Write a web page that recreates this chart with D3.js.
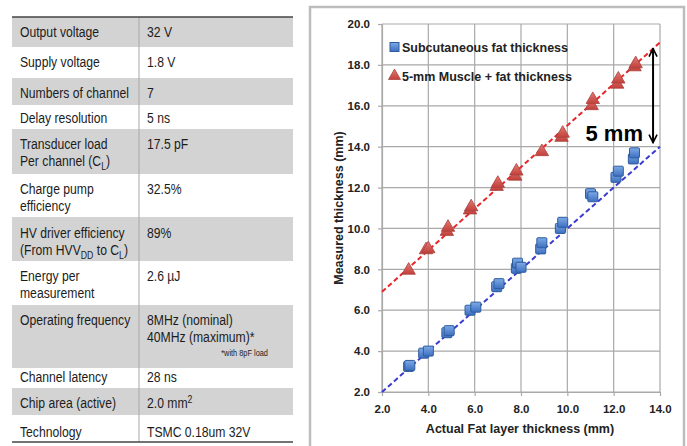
<!DOCTYPE html>
<html>
<head>
<meta charset="utf-8">
<script src="https://cdn.jsdelivr.net/npm/d3@7"></script>
<style>
  body { margin: 0; background: #fff; }
  svg { display: block; }
</style>
</head>
<body>
<svg id="viz" width="687" height="446"></svg>
<script>
// table contents ("_X" = subscript, "^X" = superscript)
const paramLabels = [
  ["Output voltage"], ["Supply voltage"], ["Numbers of channel"], ["Delay resolution"],
  ["Transducer load", "Per channel (C_L)"], ["Charge pump", "efficiency"],
  ["HV driver efficiency", "(From HVV_DD to C_L)"], ["Energy per", "measurement"],
  ["Operating frequency"], ["Channel latency"], ["Chip area (active)"], ["Technology"]
];
const paramValues = [
  ["32 V"], ["1.8 V"], ["7"], ["5 ns"], ["17.5 pF"], ["32.5%"], ["89%"], ["2.6 \u00b5J"],
  ["8MHz (nominal)", "40MHz (maximum)*"], ["28 ns"], ["2.0 mm^2"], ["TSMC 0.18um 32V"]
];
const footNote = "*with 8pF load";

// scatter data: actual fat thickness (mm) -> measured thickness (mm)
const fatActual = [3.15, 3.2, 3.8, 4.0, 4.8, 4.9, 5.8, 6.05, 6.95, 7.05, 7.8, 7.85, 8.0, 8.85, 8.9, 9.7, 9.8, 11.0, 11.1, 12.1, 12.2, 12.85, 12.9];
const fatMeasured = [3.25, 3.3, 3.9, 4.0, 4.9, 5.0, 6.0, 6.15, 7.15, 7.3, 8.05, 8.3, 8.1, 9.0, 9.3, 10.0, 10.3, 11.7, 11.55, 12.5, 12.8, 13.4, 13.7];
const muscleActual = [3.15, 3.9, 4.0, 4.8, 4.85, 5.8, 5.85, 6.95, 7.0, 7.75, 7.8, 8.9, 9.75, 9.8, 11.05, 11.1, 12.15, 12.2, 12.9, 12.95];
const muscleMeasured = [7.95, 8.95, 9.0, 9.85, 10.05, 10.9, 11.05, 12.05, 12.2, 12.55, 12.8, 13.75, 14.45, 14.65, 16.0, 16.3, 17.05, 17.3, 17.9, 18.05];
const fitFat = [[2, 2.0], [14, 14.0]];
const fitMuscle = [[2, 6.9], [14, 19.1]];
const xTicks = [2, 4, 6, 8, 10, 12, 14];
const yTicks = [2, 4, 6, 8, 10, 12, 14, 16, 18, 20];
const legendNames = ["Subcutaneous fat thickness", "5-mm Muscle + fat thickness"];
const gapArrow = [18.8, 14.2];
const gapLabel = "5 mm";

const svg = d3.select("#viz");

// ---------- table ----------
const rowEdges = [17, 47, 78, 105, 129, 174, 217, 261, 305, 368, 388, 415, 442];
const textY = [32, 62, 93, 118, 144, 189, 233, 276, 320, 377, 403, 432];
const squeeze = 0.87; // the slide used a narrow sans, so condense Liberation Sans

const tbl = svg.append("g");
tbl.selectAll("rect").data(paramLabels).join("rect")
  .attr("x", 12).attr("width", 281)
  .attr("y", (d, i) => rowEdges[i])
  .attr("height", (d, i) => rowEdges[i + 1] - rowEdges[i])
  .attr("fill", (d, i) => i % 2 === 0 ? "#d3d3d3" : "#fff");

tbl.append("line").attr("x1", 139).attr("x2", 139).attr("y1", 17).attr("y2", 442)
  .attr("stroke", "#a8a8a8").attr("stroke-width", 1);
tbl.append("line").attr("x1", 12).attr("x2", 293).attr("y1", 17).attr("y2", 17)
  .attr("stroke", "#444").attr("stroke-width", 1.5);
tbl.append("line").attr("x1", 12).attr("x2", 293).attr("y1", 442).attr("y2", 442)
  .attr("stroke", "#444").attr("stroke-width", 1.5);

const tText = tbl.append("g").attr("transform", `scale(${squeeze},1)`)
  .attr("font-family", "'Liberation Sans', Arial, sans-serif")
  .attr("font-size", 14).attr("fill", "#1c1c1c");

function richText(sel, str) {
  str.split(/(_[A-Z]+|\^\d)/).filter(s => s).forEach(part => {
    if (part[0] === "_") {
      sel.append("tspan").attr("font-size", 10).attr("baseline-shift", -4).text(part.slice(1));
    } else if (part[0] === "^") {
      sel.append("tspan").attr("font-size", 10).attr("baseline-shift", 5).text(part.slice(1));
    } else {
      sel.append("tspan").text(part);
    }
  });
}

function cellLines(col, x) {
  col.forEach((lines, i) => {
    lines.forEach((ln, k) => {
      const t = tText.append("text").attr("x", x / squeeze).attr("y", textY[i] + k * 17 + 5);
      richText(t, ln);
    });
  });
}
cellLines(paramLabels, 20);
cellLines(paramValues, 147);
tText.append("text").attr("x", 268 / squeeze).attr("y", 356).attr("text-anchor", "end")
  .attr("font-size", 8.5).text(footNote);

// ---------- chart ----------
svg.append("rect").attr("x", 310).attr("y", 7).attr("width", 374).attr("height", 450)
  .attr("fill", "#fff").attr("stroke", "#bdbdbd").attr("stroke-width", 2.5);

const x = d3.scaleLinear().domain([2, 14]).range([382, 660]);
const y = d3.scaleLinear().domain([2, 20]).range([392, 24]);
const chartFont = "'Liberation Sans', Arial, sans-serif";

const defs = svg.append("defs");
const gb = defs.append("linearGradient").attr("id", "gb").attr("x1", 0).attr("y1", 0).attr("x2", 0).attr("y2", 1);
gb.append("stop").attr("offset", 0).attr("stop-color", "#7eaae6");
gb.append("stop").attr("offset", 1).attr("stop-color", "#3d6fc0");
const gr = defs.append("linearGradient").attr("id", "gr").attr("x1", 0).attr("y1", 0).attr("x2", 0).attr("y2", 1);
gr.append("stop").attr("offset", 0).attr("stop-color", "#e57a74");
gr.append("stop").attr("offset", 1).attr("stop-color", "#c2403b");
const mk = defs.append("marker").attr("id", "ah").attr("viewBox", "0 0 10 10")
  .attr("refX", 9).attr("refY", 5).attr("markerWidth", 5).attr("markerHeight", 6)
  .attr("orient", "auto-start-reverse").attr("markerUnits", "strokeWidth");
mk.append("path").attr("d", "M1,1 L9,5 L1,9").attr("fill", "none").attr("stroke", "#000").attr("stroke-width", 1.6);

// grid
const grid = svg.append("g").attr("stroke", "#a9a9a9").attr("stroke-width", 1.2);
grid.selectAll(".gx").data(xTicks).join("line")
  .attr("x1", d => x(d)).attr("x2", d => x(d)).attr("y1", y(2)).attr("y2", y(20));
grid.selectAll(".gy").data(yTicks).join("line")
  .attr("x1", x(2)).attr("x2", x(14)).attr("y1", d => y(d)).attr("y2", d => y(d));

// axes
const xAxis = svg.append("g").attr("transform", `translate(0,${y(2)})`)
  .call(d3.axisBottom(x).tickValues(xTicks).tickFormat(d3.format(".1f")).tickSize(4).tickSizeOuter(0).tickPadding(9));
const yAxis = svg.append("g").attr("transform", `translate(${x(2)},0)`)
  .call(d3.axisLeft(y).tickValues(yTicks).tickFormat(d3.format(".1f")).tickSize(4).tickSizeOuter(0).tickPadding(8));
[xAxis, yAxis].forEach(a => {
  a.select(".domain").attr("stroke", "#a9a9a9").attr("stroke-width", 1.2);
  a.selectAll(".tick line").attr("stroke", "#a9a9a9").attr("stroke-width", 1.2);
  a.selectAll("text").attr("font-family", chartFont).attr("font-weight", "bold")
    .attr("font-size", 11.5).attr("fill", "#222");
});

// fit lines
const line = d3.line().x(d => x(d[0])).y(d => y(d[1]));
svg.append("path").attr("d", line(fitMuscle)).attr("fill", "none")
  .attr("stroke", "#e8262a").attr("stroke-width", 2).attr("stroke-dasharray", "5,3");
svg.append("path").attr("d", line(fitFat)).attr("fill", "none")
  .attr("stroke", "#3a3ad0").attr("stroke-width", 2).attr("stroke-dasharray", "5,3");

// markers
const sq = 10;
svg.append("g").selectAll("rect").data(d3.zip(fatActual, fatMeasured)).join("rect")
  .attr("x", d => x(d[0]) - sq / 2).attr("y", d => y(d[1]) - sq / 2)
  .attr("width", sq).attr("height", sq).attr("rx", 1)
  .attr("fill", "url(#gb)").attr("stroke", "#2d5c9e").attr("stroke-width", 1);
const tri = d3.symbol().type(d3.symbolTriangle).size(78);
svg.append("g").selectAll("path").data(d3.zip(muscleActual, muscleMeasured)).join("path")
  .attr("d", tri).attr("transform", d => `translate(${x(d[0])},${y(d[1])})`)
  .attr("fill", "url(#gr)").attr("stroke", "#a8423e").attr("stroke-width", 0.8);

// legend
const lg = svg.append("g").attr("font-family", chartFont).attr("font-weight", "bold")
  .attr("font-size", 12.5).attr("fill", "#222");
lg.append("rect").attr("x", 390).attr("y", 42.5).attr("width", 9).attr("height", 9)
  .attr("fill", "url(#gb)").attr("stroke", "#2d5c9e");
lg.append("path").attr("d", d3.symbol().type(d3.symbolTriangle).size(62)).attr("transform", "translate(394.5,76)")
  .attr("fill", "url(#gr)").attr("stroke", "#a8423e").attr("stroke-width", 0.8);
lg.selectAll("text").data(legendNames).join("text")
  .attr("x", 402).attr("y", (d, i) => 51.5 + i * 29).text(d => d);

// 5 mm gap arrow
svg.append("line").attr("x1", x(13.7)).attr("x2", x(13.7))
  .attr("y1", y(gapArrow[0])).attr("y2", y(gapArrow[1]))
  .attr("stroke", "#000").attr("stroke-width", 2)
  .attr("marker-start", "url(#ah)").attr("marker-end", "url(#ah)");
svg.append("text").attr("x", 643).attr("y", 141).attr("text-anchor", "end")
  .attr("font-family", chartFont).attr("font-weight", "bold").attr("font-size", 22)
  .attr("fill", "#000").text(gapLabel);

// axis titles
svg.append("text").attr("x", 520).attr("y", 432.5).attr("text-anchor", "middle")
  .attr("font-family", chartFont).attr("font-weight", "bold")
  .attr("font-size", 12.5).attr("fill", "#222").text("Actual Fat layer thickness (mm)");
svg.append("text").attr("transform", "translate(342.5,208) rotate(-90)").attr("text-anchor", "middle")
  .attr("font-family", chartFont).attr("font-weight", "bold")
  .attr("font-size", 12.5).attr("fill", "#222").text("Measured thickness (mm)");
</script>
</body>
</html>
